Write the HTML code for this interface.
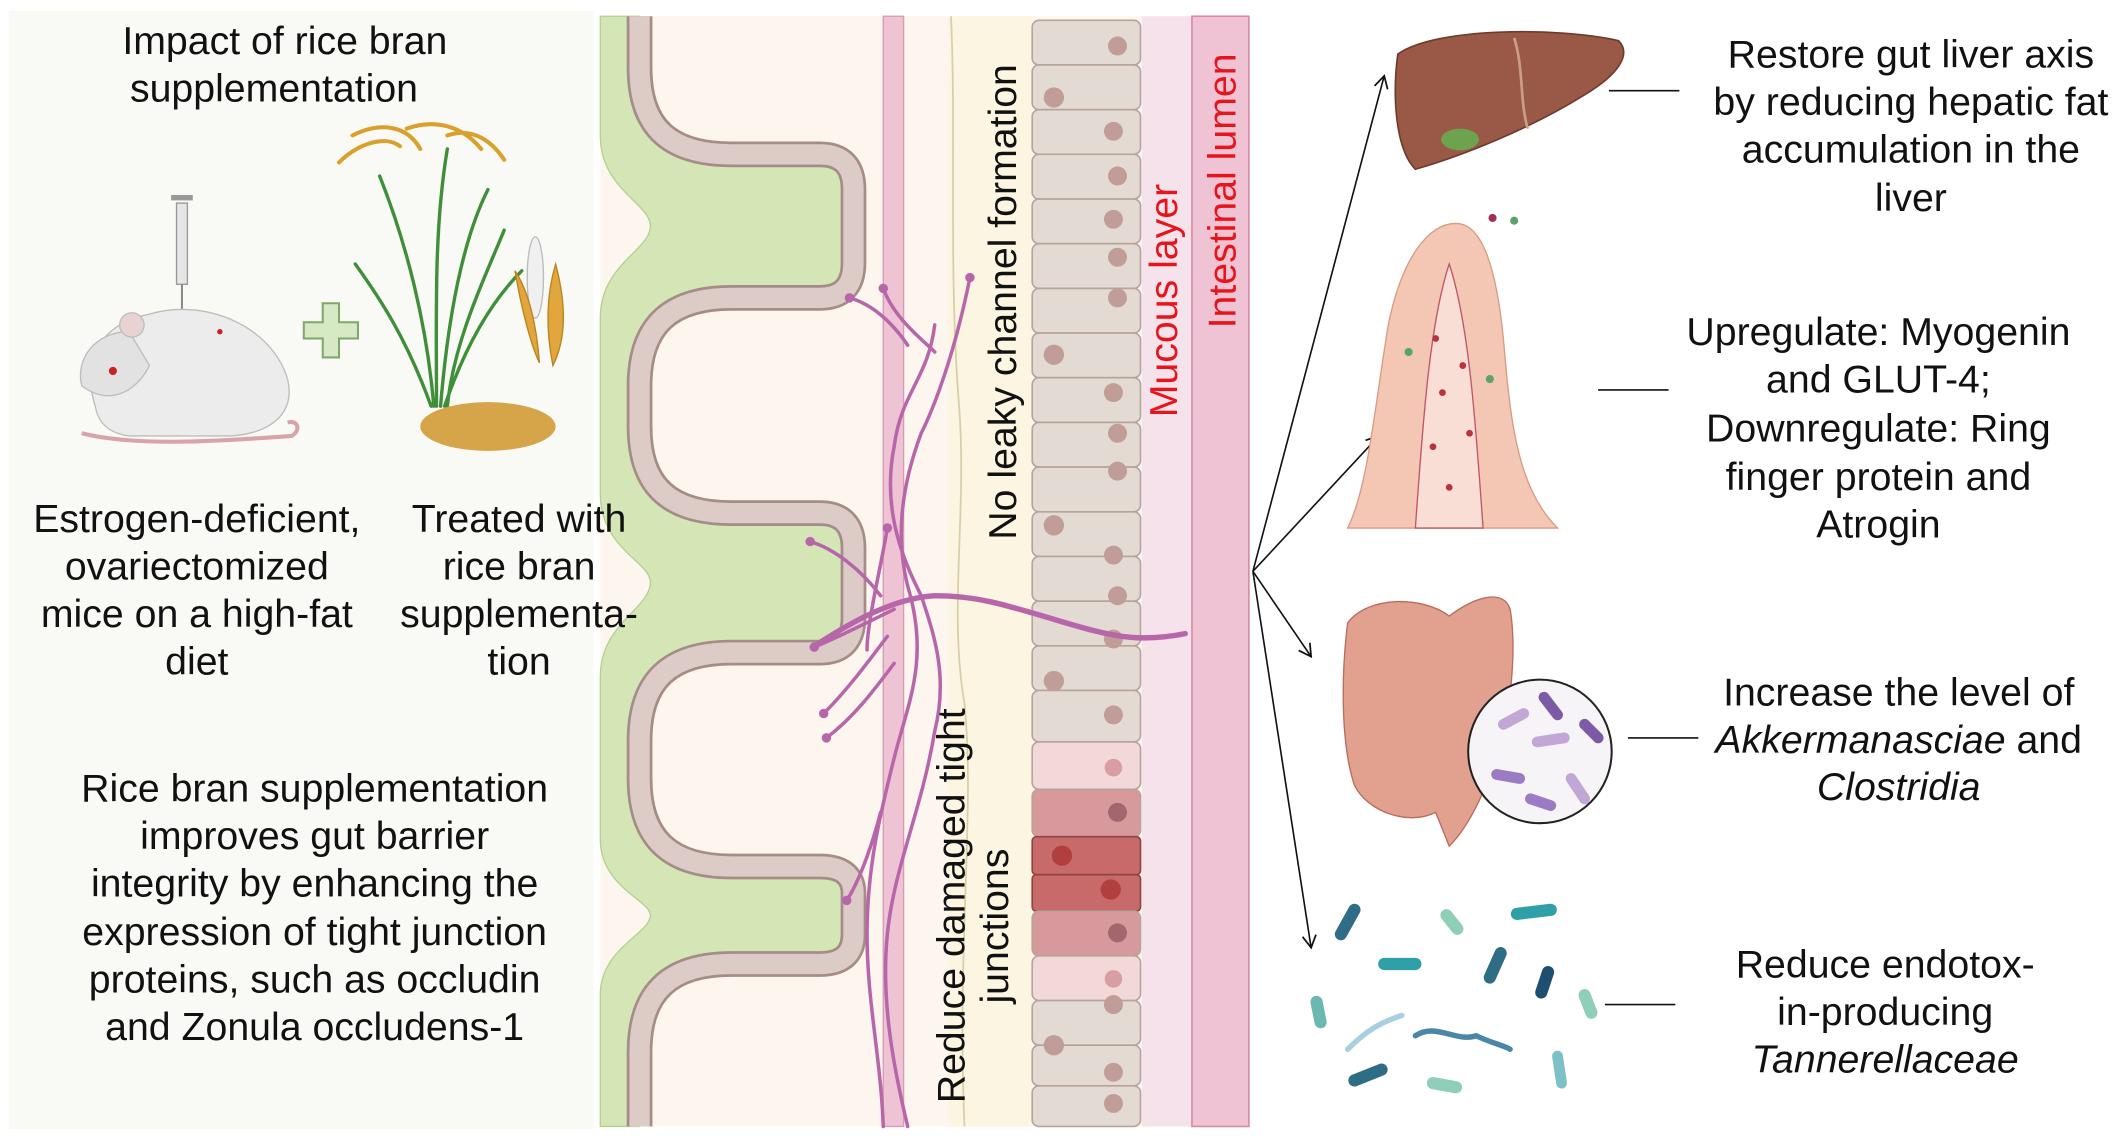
<!DOCTYPE html>
<html><head><meta charset="utf-8"><style>
html,body{margin:0;padding:0;background:#fff;}
svg{display:block;}
text{font-family:"Liberation Sans",Arial,sans-serif;}
</style></head><body>
<svg width="2124" height="1140" viewBox="0 0 1568 842" xmlns="http://www.w3.org/2000/svg">
<defs>
<marker id="ah" markerWidth="12" markerHeight="12" refX="10" refY="6" orient="auto" markerUnits="userSpaceOnUse">
<path d="M1,1 L10,6 L1,11" fill="none" stroke="#111" stroke-width="1.3"/>
</marker>
</defs>
<rect width="1568" height="842" fill="#fff"/>
<rect x="6" y="8" width="432" height="826" fill="#f9faf6"/>

<!-- central panel -->
<rect x="443" y="12" width="480" height="820" fill="#fdf6ef"/>
<rect x="700" y="12" width="62" height="820" fill="#fbf5e1"/>
<path d="M702 12 C706 100,700 200,708 300 C714 380,700 450,712 520 C720 600,706 700,712 832" fill="none" stroke="#d8cfa8" stroke-width="1.3"/>
<rect x="652" y="12" width="15" height="820" fill="#eec4d4" stroke="#d99bb3" stroke-width="1"/>
<rect x="843" y="12" width="37" height="820" fill="#f5e2ea"/>
<rect x="880" y="12" width="42" height="820" fill="#efc3d3" stroke="#d98aa3" stroke-width="1.2"/>

<!-- green tissue -->
<path d="M472 12 L472 50 C472 95 495 114 540 114 L605 114 Q630 114 630 140 L630 194 Q630 220 605 220 L540 220 C495 220 472 240 472 285 L472 315 C472 360 495 379 540 379 L605 379 Q630 379 630 405 L630 456 Q630 482 605 482 L540 482 C495 482 472 502 472 547 L472 575 C472 620 495 640 540 640 L605 640 Q630 640 630 660 L630 690 Q630 712 605 712 L540 712 C495 712 472 732 472 777 L472 832 L443 832 L443 735 C443 700 480 690 480 676 C480 665 443 655 443 620 L443 500 C443 460 480 450 480 430 C480 415 443 405 443 365 L443 235 C443 195 480 185 480 167 C480 150 443 140 443 100 L443 12 Z" fill="#d4e6b6" stroke="#b6cf92" stroke-width="1"/>
<g fill="none" stroke-linejoin="round">
<path d="M472 12 L472 50 C472 95 495 114 540 114 L605 114 Q630 114 630 140 L630 194 Q630 220 605 220 L540 220 C495 220 472 240 472 285 L472 315 C472 360 495 379 540 379 L605 379 Q630 379 630 405 L630 456 Q630 482 605 482 L540 482 C495 482 472 502 472 547 L472 575 C472 620 495 640 540 640 L605 640 Q630 640 630 660 L630 690 Q630 712 605 712 L540 712 C495 712 472 732 472 777 L472 832" stroke="#a58c88" stroke-width="19"/>
<path d="M472 12 L472 50 C472 95 495 114 540 114 L605 114 Q630 114 630 140 L630 194 Q630 220 605 220 L540 220 C495 220 472 240 472 285 L472 315 C472 360 495 379 540 379 L605 379 Q630 379 630 405 L630 456 Q630 482 605 482 L540 482 C495 482 472 502 472 547 L472 575 C472 620 495 640 540 640 L605 640 Q630 640 630 660 L630 690 Q630 712 605 712 L540 712 C495 712 472 732 472 777 L472 832" stroke="#dccbc6" stroke-width="15"/>
</g>

<!-- cells -->
<g stroke="#b5a39c" stroke-width="1.2">
<rect x="762" y="15" width="80" height="33" rx="5" fill="#e4dad4"/>
<rect x="762" y="48" width="80" height="33" rx="5" fill="#e4dad4"/>
<rect x="762" y="81" width="80" height="33" rx="5" fill="#e4dad4"/>
<rect x="762" y="114" width="80" height="33" rx="5" fill="#e4dad4"/>
<rect x="762" y="147" width="80" height="33" rx="5" fill="#e4dad4"/>
<rect x="762" y="180" width="80" height="33" rx="5" fill="#e4dad4"/>
<rect x="762" y="213" width="80" height="33" rx="5" fill="#e4dad4"/>
<rect x="762" y="246" width="80" height="33" rx="5" fill="#e4dad4"/>
<rect x="762" y="279" width="80" height="33" rx="5" fill="#e4dad4"/>
<rect x="762" y="312" width="80" height="33" rx="5" fill="#e4dad4"/>
<rect x="762" y="345" width="80" height="33" rx="5" fill="#e4dad4"/>
<rect x="762" y="378" width="80" height="33" rx="5" fill="#e4dad4"/>
<rect x="762" y="411" width="80" height="33" rx="5" fill="#e4dad4"/>
<rect x="762" y="444" width="80" height="33" rx="5" fill="#e4dad4"/>
<rect x="762" y="477" width="80" height="33" rx="5" fill="#e4dad4"/>
<rect x="762" y="510" width="80" height="38" rx="5" fill="#e4dad4"/>
<rect x="762" y="548" width="80" height="35" rx="5" fill="#f3d8d9"/>
<rect x="762" y="583" width="80" height="35" rx="5" fill="#d7999b"/>
<rect x="762" y="618" width="80" height="28" rx="3" fill="#c86a6a" stroke="#8e4444"/>
<rect x="762" y="646" width="80" height="27" rx="3" fill="#c86a6a" stroke="#8e4444"/>
<rect x="762" y="673" width="80" height="33" rx="5" fill="#d7999b"/>
<rect x="762" y="706" width="80" height="33" rx="5" fill="#f3d8d9"/>
<rect x="762" y="739" width="80" height="33" rx="5" fill="#e4dad4"/>
<rect x="762" y="772" width="80" height="30" rx="5" fill="#e4dad4"/>
<rect x="762" y="802" width="80" height="30" rx="5" fill="#e4dad4"/>
</g>
<g fill="#c09d96">
<circle cx="825" cy="34" r="7"/><circle cx="778" cy="72" r="7.5"/><circle cx="822" cy="97" r="7"/><circle cx="825" cy="130" r="7"/><circle cx="822" cy="162" r="7"/><circle cx="825" cy="190" r="7"/><circle cx="825" cy="220" r="7"/><circle cx="778" cy="262" r="7.5"/><circle cx="822" cy="290" r="7"/><circle cx="825" cy="320" r="7"/><circle cx="825" cy="348" r="7"/><circle cx="778" cy="388" r="7.5"/><circle cx="822" cy="410" r="7"/><circle cx="825" cy="440" r="7"/><circle cx="822" cy="472" r="7"/><circle cx="778" cy="503" r="7.5"/><circle cx="822" cy="528" r="7"/><circle cx="822" cy="742" r="7"/><circle cx="778" cy="772" r="7.5"/><circle cx="822" cy="792" r="7"/><circle cx="822" cy="815" r="7"/>
</g>
<circle cx="822" cy="567" r="6.5" fill="#d99ea2"/>
<circle cx="825" cy="600" r="7" fill="#a4666e"/>
<circle cx="784" cy="632" r="7.5" fill="#b23f40"/>
<circle cx="820" cy="657" r="7.5" fill="#b23f40"/>
<circle cx="825" cy="689" r="7" fill="#a4666e"/>
<circle cx="822" cy="723" r="6.5" fill="#d99ea2"/>

<!-- nerve -->
<g fill="none" stroke="#b866aa" stroke-width="2.6" stroke-linecap="round">
<path d="M875 468 C840 475,820 470,780 458 C740 446,720 440,690 440 C660 442,630 458,600 478" stroke-width="4"/>
<path d="M716 205 C705 260,690 300,680 320 C665 360,660 400,672 440 C685 490,670 520,660 560 C650 600,640 640,640 690 C640 740,650 780,652 832"/>
<path d="M690 240 C685 280,665 290,660 330 C650 380,670 420,680 440 C690 470,700 500,690 540 C680 600,660 640,655 690 C650 740,660 790,670 832"/>
<path d="M652 213 C660 235,680 250,690 260"/>
<path d="M627 220 C645 225,660 240,670 255"/>
<path d="M598 400 C615 405,635 420,650 440"/>
<path d="M601 478 C620 470,640 460,660 450"/>
<path d="M608 527 C625 510,640 490,655 470"/>
<path d="M655 390 C650 420,640 460,640 480"/>
<path d="M625 665 C635 650,645 620,650 600"/>
<path d="M610 545 C630 530,645 510,660 490"/>
</g>
<g fill="#b866aa">
<circle cx="716" cy="205" r="3.5"/><circle cx="652" cy="213" r="3.5"/><circle cx="627" cy="220" r="3.5"/><circle cx="598" cy="400" r="3.5"/><circle cx="601" cy="478" r="3.5"/><circle cx="608" cy="527" r="3.5"/><circle cx="625" cy="665" r="3.5"/><circle cx="655" cy="390" r="3.5"/><circle cx="610" cy="545" r="3.5"/>
</g>

<!-- panel labels -->
<text transform="translate(750,223) rotate(-90)" text-anchor="middle" font-size="29" fill="#111">No leaky channel formation</text>
<text transform="translate(869,222) rotate(-90)" text-anchor="middle" font-size="29" fill="#e8141c">Mucous layer</text>
<text transform="translate(912,141) rotate(-90)" text-anchor="middle" font-size="29" fill="#e8141c">Intestinal lumen</text>
<text transform="translate(712,669) rotate(-90)" text-anchor="middle" font-size="29" fill="#111">Reduce damaged tight</text>
<text transform="translate(744,684) rotate(-90)" text-anchor="middle" font-size="29" fill="#111">junctions</text>

<!-- left texts -->
<g font-size="29" fill="#111" text-anchor="middle">
<text x="210" y="40">Impact of rice bran</text>
<text x="202" y="75">supplementation</text>
<text x="145" y="393">Estrogen-deficient,</text>
<text x="145" y="428">ovariectomized</text>
<text x="145" y="463">mice on a high-fat</text>
<text x="145" y="498">diet</text>
<text x="383" y="393">Treated with</text>
<text x="383" y="428">rice bran</text>
<text x="383" y="463">supplementa-</text>
<text x="383" y="498">tion</text>
<text x="232" y="592">Rice bran supplementation</text>
<text x="232" y="627">improves gut barrier</text>
<text x="232" y="662">integrity by enhancing the</text>
<text x="232" y="698">expression of tight junction</text>
<text x="232" y="733">proteins, such as occludin</text>
<text x="232" y="768">and Zonula occludens-1</text>
</g>

<!-- mouse -->
<g>
<path d="M60 320 C100 330,160 326,215 322 C222 318,220 310,212 312" fill="none" stroke="#d9a3a8" stroke-width="3"/>
<path d="M70 300 C60 270,70 240,110 232 C150 220,200 240,212 280 C218 305,200 320,170 322 L95 322 C80 320,72 312,70 300 Z" fill="#ececec" stroke="#bdbdbd"/>
<path d="M60 285 C55 265,70 245,95 245 L110 270 C100 290,80 300,60 285 Z" fill="#e2e2e2" stroke="#bdbdbd"/>
<circle cx="97" cy="240" r="9" fill="#e8d2d2" stroke="#bdbdbd"/>
<circle cx="83" cy="274" r="3" fill="#c22"/>
<circle cx="162" cy="245" r="2" fill="#c22"/>
<rect x="130" y="150" width="8" height="60" fill="#e6e6e6" stroke="#999"/>
<rect x="126" y="144" width="16" height="4" fill="#999"/>
<line x1="134" y1="210" x2="134" y2="228" stroke="#888" stroke-width="1.5"/>
</g>
<path d="M238 224 h12 v14 h14 v12 h-14 v14 h-12 v-14 h-14 v-12 h14 z" fill="#d6e8c4" stroke="#7ea86a" stroke-width="1.5"/>
<g fill="none" stroke-linecap="round">
<path d="M320 300 C315 240,300 180,280 130 M325 300 C330 240,340 180,360 140 M318 300 C300 250,280 220,262 195 M328 300 C345 250,365 220,385 200 M322 300 C322 230,320 170,330 110 M330 300 C335 250,360 200,372 170" stroke="#3f8f3a" stroke-width="2.5"/>
<path d="M260 100 C280 90,300 92,310 110 M300 95 C320 88,340 92,355 110 M330 100 C345 95,360 100,372 118 M250 120 C265 105,285 100,295 108" stroke="#d9a02b" stroke-width="3"/>
<ellipse cx="395" cy="205" rx="6" ry="30" fill="#f0f0f0" stroke="#bbb"/>
<path d="M380 200 C385 230,392 255,398 268 C396 240,390 215,380 200 Z" fill="#e3a63c" stroke="#b88420"/>
<path d="M410 195 C418 225,418 250,408 270 C402 240,404 215,410 195 Z" fill="#e3a63c" stroke="#b88420"/>
<ellipse cx="360" cy="315" rx="50" ry="18" fill="#d6a54a"/>
</g>

<!-- arrows -->
<g stroke="#111" stroke-width="1.2" fill="none">
<line x1="925" y1="422" x2="1022" y2="56" marker-end="url(#ah)"/>
<line x1="925" y1="422" x2="1018" y2="322" marker-end="url(#ah)"/>
<line x1="925" y1="422" x2="968" y2="485" marker-end="url(#ah)"/>
<line x1="925" y1="422" x2="968" y2="700" marker-end="url(#ah)"/>
<line x1="1188" y1="67" x2="1240" y2="67"/>
<line x1="1180" y1="288" x2="1232" y2="288"/>
<line x1="1202" y1="545" x2="1254" y2="545"/>
<line x1="1185" y1="742" x2="1237" y2="742"/>
</g>

<!-- liver -->
<path d="M1032 40 C1060 20,1150 20,1195 30 C1205 40,1195 55,1170 70 C1130 95,1080 115,1045 125 C1030 110,1028 70,1032 40 Z" fill="#9a5846" stroke="#6e3a2c" stroke-width="1.2"/>
<path d="M1118 28 C1125 50,1122 75,1128 95" fill="none" stroke="#c7a083" stroke-width="2"/>
<ellipse cx="1078" cy="103" rx="14" ry="8" fill="#6da24e"/>

<!-- villus -->
<path d="M995 390 C1010 360,1015 300,1025 240 C1035 190,1055 165,1075 165 C1095 165,1105 200,1110 250 C1115 310,1120 360,1150 390 Z" fill="#f3c7b4" stroke="#d89b86"/>
<path d="M1045 390 C1050 320,1055 240,1070 195 C1085 240,1090 320,1095 390 Z" fill="#f8ded4" stroke="#c0566a"/>
<g fill="#b8323f"><circle cx="1060" cy="250" r="2.5"/><circle cx="1065" cy="290" r="2.5"/><circle cx="1080" cy="270" r="2.5"/><circle cx="1058" cy="330" r="2.5"/><circle cx="1085" cy="320" r="2.5"/><circle cx="1070" cy="360" r="2.5"/></g>
<g fill="#5aa36a"><circle cx="1040" cy="260" r="3"/><circle cx="1100" cy="280" r="3"/><circle cx="1118" cy="163" r="3"/></g>
<circle cx="1102" cy="161" r="3" fill="#a0305a"/>

<!-- intestine -->
<path d="M995 460 C1010 440,1050 440,1070 455 C1090 440,1110 435,1115 450 C1120 480,1115 520,1110 540 C1100 580,1085 610,1070 625 L1060 600 C1040 610,1010 600,1000 580 C990 550,990 500,995 460 Z" fill="#e2a08f" stroke="#b86d5e"/>
<circle cx="1137" cy="555" r="53" fill="#f7f4f8" stroke="#222" stroke-width="1.5"/>
<g stroke-linecap="round" stroke-width="8">
<line x1="1110" y1="535" x2="1125" y2="527" stroke="#c2a6d6"/>
<line x1="1140" y1="515" x2="1150" y2="528" stroke="#7c5aa6"/>
<line x1="1105" y1="572" x2="1122" y2="575" stroke="#9b7cc4"/>
<line x1="1135" y1="548" x2="1155" y2="545" stroke="#c2a6d6"/>
<line x1="1160" y1="575" x2="1170" y2="590" stroke="#c2a6d6"/>
<line x1="1130" y1="590" x2="1145" y2="595" stroke="#9b7cc4"/>
<line x1="1170" y1="535" x2="1180" y2="545" stroke="#7c5aa6"/>
</g>

<!-- bacteria -->
<g stroke-linecap="round">
<line x1="990" y1="690" x2="1000" y2="672" stroke="#2f6d86" stroke-width="9"/>
<line x1="1022" y1="712" x2="1045" y2="712" stroke="#2fa0a8" stroke-width="9"/>
<line x1="1120" y1="675" x2="1145" y2="672" stroke="#2fa0a8" stroke-width="9"/>
<line x1="1100" y1="722" x2="1108" y2="704" stroke="#2f6d86" stroke-width="9"/>
<line x1="1138" y1="733" x2="1143" y2="718" stroke="#1e4f70" stroke-width="9"/>
<line x1="1068" y1="676" x2="1076" y2="686" stroke="#8fcfb8" stroke-width="9"/>
<line x1="1170" y1="735" x2="1175" y2="748" stroke="#8fcfb8" stroke-width="9"/>
<line x1="972" y1="740" x2="975" y2="755" stroke="#6ab8b0" stroke-width="9"/>
<line x1="1000" y1="798" x2="1020" y2="790" stroke="#2f6d86" stroke-width="9"/>
<line x1="1058" y1="800" x2="1075" y2="803" stroke="#8fcfb8" stroke-width="9"/>
<line x1="1150" y1="780" x2="1153" y2="800" stroke="#7cc0c8" stroke-width="8"/>
<path d="M1045 765 C1060 755,1075 770,1090 765 C1100 770,1110 772,1115 775" fill="none" stroke="#4a86a8" stroke-width="4"/>
<path d="M995 775 C1010 760,1020 755,1035 750" fill="none" stroke="#a8d0e0" stroke-width="4"/>
</g>

<!-- right texts -->
<g font-size="29" fill="#111" text-anchor="middle">
<text x="1411" y="50">Restore gut liver axis</text>
<text x="1411" y="85">by reducing hepatic fat</text>
<text x="1411" y="120">accumulation in the</text>
<text x="1411" y="156">liver</text>
<text x="1387" y="255">Upregulate: Myogenin</text>
<text x="1387" y="290">and GLUT-4;</text>
<text x="1387" y="326">Downregulate: Ring</text>
<text x="1387" y="362">finger protein and</text>
<text x="1387" y="397">Atrogin</text>
<text x="1402" y="521">Increase the level of</text>
<text x="1402" y="556"><tspan font-style="italic">Akkermanasciae</tspan> and</text>
<text x="1402" y="591" font-style="italic">Clostridia</text>
<text x="1392" y="722">Reduce endotox-</text>
<text x="1392" y="757">in-producing</text>
<text x="1392" y="792" font-style="italic">Tannerellaceae</text>
</g>
</svg>
</body></html>
